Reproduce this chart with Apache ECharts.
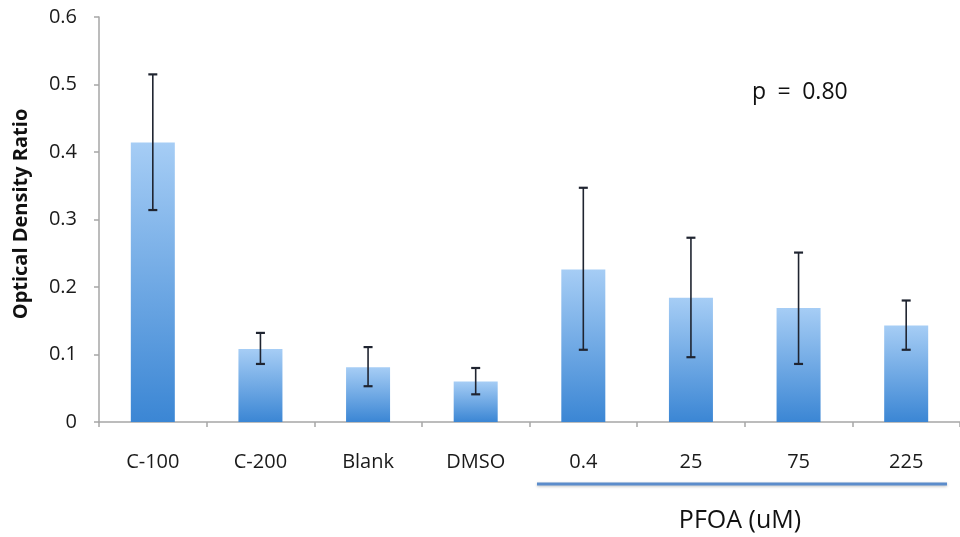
<!DOCTYPE html>
<html>
<head>
<meta charset="utf-8">
<script src="https://cdn.jsdelivr.net/npm/echarts@6/dist/echarts.min.js"></script>
<style>
  html, body { margin: 0; padding: 0; background: #fff; }
  #chart { width: 960px; height: 537px; }
</style>
</head>
<body>
<div id="chart"></div>
<script>
// Treatment groups along the x axis
const categories = ['C-100', 'C-200', 'Blank', 'DMSO', '0.4', '25', '75', '225'];
// Mean optical density ratio per group
const means = [0.414, 0.108, 0.081, 0.060, 0.226, 0.184, 0.169, 0.143];
// Error bar extents (upper and lower ends)
const errHigh = [0.515, 0.132, 0.111, 0.080, 0.347, 0.273, 0.251, 0.180];
const errLow  = [0.314, 0.086, 0.053, 0.041, 0.107, 0.096, 0.086, 0.107];
// Y axis ticks
const yTicks = { min: 0, max: 0.6, interval: 0.1 };

const FONT = '"Open Sans", "Noto Sans", sans-serif';

const chart = echarts.init(document.getElementById('chart'), null, { renderer: 'canvas' });

const errorData = categories.map((c, i) => [i, errLow[i], errHigh[i]]);

chart.setOption({
  animation: false,
  backgroundColor: '#ffffff',
  grid: { left: 99, top: 17, width: 869, bottom: 115, containLabel: false },
  xAxis: {
    type: 'category',
    data: categories,
    axisLine: { lineStyle: { color: '#a6a6a6', width: 1.5 } },
    axisTick: { show: true, length: 5, inside: false, lineStyle: { color: '#a6a6a6', width: 1.5 } },
    axisLabel: { color: '#1a1a1a', fontFamily: FONT, fontSize: 20, margin: 30 },
    splitLine: { show: false }
  },
  yAxis: {
    type: 'value',
    min: yTicks.min,
    max: yTicks.max,
    interval: yTicks.interval,
    axisLine: { show: true, lineStyle: { color: '#a6a6a6', width: 1.5 } },
    axisTick: { show: true, length: 5, lineStyle: { color: '#a6a6a6', width: 1.5 } },
    axisLabel: {
      color: '#1a1a1a', fontFamily: FONT, fontSize: 20, margin: 22,
      formatter: v => (v === 0 ? '0' : v.toFixed(1))
    },
    splitLine: { show: false }
  },
  series: [
    {
      type: 'bar',
      data: means,
      barWidth: 44,
      itemStyle: {
        color: new echarts.graphic.LinearGradient(0, 0, 0, 1, [
          { offset: 0, color: '#a6cdf5' },
          { offset: 1, color: '#3b86d4' }
        ])
      },
      z: 2
    },
    {
      type: 'custom',
      data: errorData,
      z: 5,
      renderItem: function (params, api) {
        const x = api.value(0);
        const lo = api.coord([x, api.value(1)]);
        const hi = api.coord([x, api.value(2)]);
        const cap = 4.5;
        const stem = { stroke: '#1f2430', lineWidth: 1.6 };
        const capStyle = { stroke: '#1f2430', lineWidth: 2.2 };
        return {
          type: 'group',
          children: [
            { type: 'line', shape: { x1: hi[0], y1: hi[1], x2: lo[0], y2: lo[1] }, style: stem },
            { type: 'line', shape: { x1: hi[0] - cap, y1: hi[1], x2: hi[0] + cap, y2: hi[1] }, style: capStyle },
            { type: 'line', shape: { x1: lo[0] - cap, y1: lo[1], x2: lo[0] + cap, y2: lo[1] }, style: capStyle }
          ]
        };
      }
    }
  ],
  graphic: [
    {
      // y axis title, rotated
      type: 'text',
      x: 21, y: 214,
      rotation: Math.PI / 2,
      style: {
        text: 'Optical Density Ratio',
        fontFamily: FONT, fontSize: 20, fontWeight: 'bold', fill: '#111',
        align: 'center', verticalAlign: 'middle'
      }
    },
    {
      type: 'text',
      x: 752, y: 92,
      style: {
        text: 'p\u2002=\u20020.80',
        fontFamily: FONT, fontSize: 23, fill: '#111',
        align: 'left', verticalAlign: 'middle'
      }
    },
    {
      type: 'line',
      shape: { x1: 537, y1: 484, x2: 947, y2: 484 },
      style: { stroke: '#5b8ccb', lineWidth: 3, shadowColor: 'rgba(0,0,0,0.25)', shadowBlur: 3, shadowOffsetY: 1 }
    },
    {
      type: 'text',
      x: 740, y: 521,
      style: {
        text: 'PFOA (uM)',
        fontFamily: FONT, fontSize: 25, fill: '#111',
        align: 'center', verticalAlign: 'middle'
      }
    }
  ]
});
</script>
</body>
</html>
